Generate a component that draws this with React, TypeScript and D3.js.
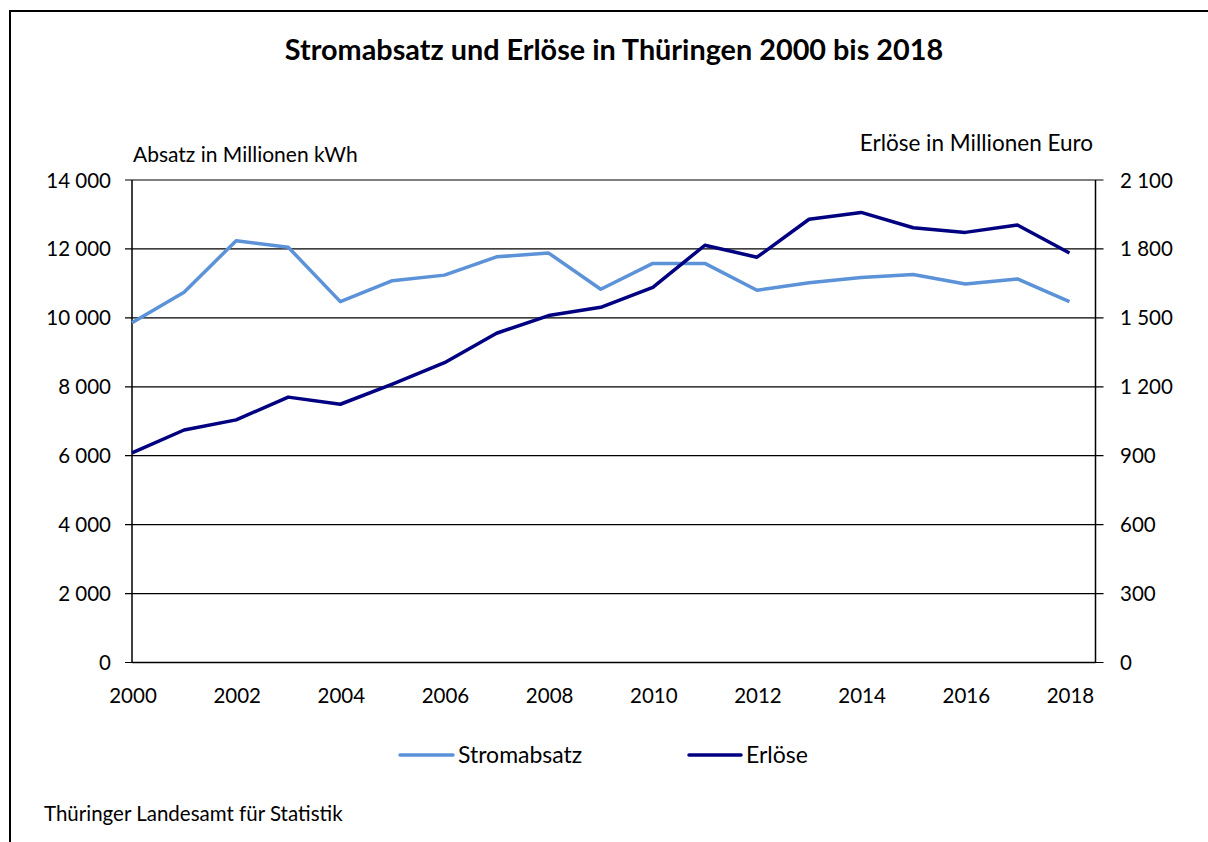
import React from "react";
import * as d3 from "d3";

const years = [2000, 2001, 2002, 2003, 2004, 2005, 2006, 2007, 2008, 2009, 2010, 2011, 2012, 2013, 2014, 2015, 2016, 2017, 2018];
const stromabsatz = [9860, 10740, 12240, 12050, 10470, 11080, 11240, 11770, 11880, 10830, 11580, 11580, 10800, 11020, 11170, 11260, 10980, 11130, 10470];
const erloese = [912, 1012, 1056, 1155, 1124, 1212, 1305, 1433, 1510, 1546, 1633, 1816, 1764, 1929, 1959, 1892, 1872, 1904, 1782];
const leftTicks = [0, 2000, 4000, 6000, 8000, 10000, 12000, 14000];
const rightTicks = [0, 300, 600, 900, 1200, 1500, 1800, 2100];
const xTickYears = [2000, 2002, 2004, 2006, 2008, 2010, 2012, 2014, 2016, 2018];

const FONT = "Lato, 'Open Sans', sans-serif";
const LIGHT = "#5B92D8";
const DARK = "#000080";

const fmt = (v: number) => {
  const s = String(v);
  return s.length > 3 ? s.slice(0, s.length - 3) + " " + s.slice(-3) : s;
};

export default function App() {
  const W = 1208, H = 842;
  const left = 132, right = 1095.5, top = 180, bottom = 662.5;
  const x = d3.scaleLinear().domain([2000, 2018.5]).range([left, right]);
  const yL = d3.scaleLinear().domain([0, 14000]).range([bottom, top]);
  const yR = d3.scaleLinear().domain([0, 2100]).range([bottom, top]);

  const lineL = d3.line<number>().x((_, i) => x(years[i])).y((d) => yL(d));
  const lineR = d3.line<number>().x((_, i) => x(years[i])).y((d) => yR(d));

  return (
    <svg width={W} height={H} style={{ position: "absolute", left: 0, top: 0, background: "#fff" }}>
      <rect x={0} y={0} width={W} height={H} fill="#fff" />
      {/* frame */}
      <path d={`M10,${H} L10,11 L${W},11`} fill="none" stroke="#000" strokeWidth={2} />
      <text x={614} y={60} textAnchor="middle" fontFamily={FONT} fontWeight="bold" fontSize={28.8} fill="#000">
        Stromabsatz und Erlöse in Thüringen 2000 bis 2018
      </text>
      <text x={133} y={162} fontFamily={FONT} fontSize={21} fill="#000">Absatz in Millionen kWh</text>
      <text x={1093} y={151} textAnchor="end" fontFamily={FONT} fontSize={22.5} fill="#000">Erlöse in Millionen Euro</text>

      {/* gridlines */}
      {leftTicks.map((t) => (
        <line key={"g" + t} x1={left - 7} x2={right + 8} y1={yL(t)} y2={yL(t)} stroke="#000" strokeWidth={1.2} />
      ))}
      {/* axes */}
      <line x1={left} x2={left} y1={top} y2={bottom} stroke="#000" strokeWidth={1.5} />
      <line x1={right} x2={right} y1={top} y2={bottom} stroke="#000" strokeWidth={1.5} />
      <line x1={left} x2={right} y1={bottom} y2={bottom} stroke="#000" strokeWidth={1.5} />

      {leftTicks.map((t) => (
        <text key={"l" + t} x={111} y={yL(t) + 7.5} textAnchor="end" fontFamily={FONT} fontSize={20.5} fill="#000">{fmt(t)}</text>
      ))}
      {rightTicks.map((t) => (
        <text key={"r" + t} x={1120} y={yR(t) + 7.5} textAnchor="start" fontFamily={FONT} fontSize={20.5} fill="#000">{fmt(t)}</text>
      ))}
      {xTickYears.map((yr) => (
        <text key={"x" + yr} x={x(yr) + 1} y={703} textAnchor="middle" fontFamily={FONT} fontSize={20.5} fill="#000">{yr}</text>
      ))}

      <path d={lineL(stromabsatz) || ""} fill="none" stroke={LIGHT} strokeWidth={3.5} strokeLinejoin="round" />
      <path d={lineR(erloese) || ""} fill="none" stroke={DARK} strokeWidth={3.5} strokeLinejoin="round" />

      {/* legend */}
      <line x1={400} x2={453} y1={755} y2={755} stroke={LIGHT} strokeWidth={3.5} strokeLinecap="round" />
      <text x={458} y={762.5} fontFamily={FONT} fontSize={23} fill="#000">Stromabsatz</text>
      <line x1={689} x2={741} y1={755} y2={755} stroke={DARK} strokeWidth={3.5} strokeLinecap="round" />
      <text x={746} y={762.5} fontFamily={FONT} fontSize={23} fill="#000">Erlöse</text>

      <text x={44} y={821} fontFamily={FONT} fontSize={20.5} fill="#000">Thüringer Landesamt für Statistik</text>
    </svg>
  );
}
